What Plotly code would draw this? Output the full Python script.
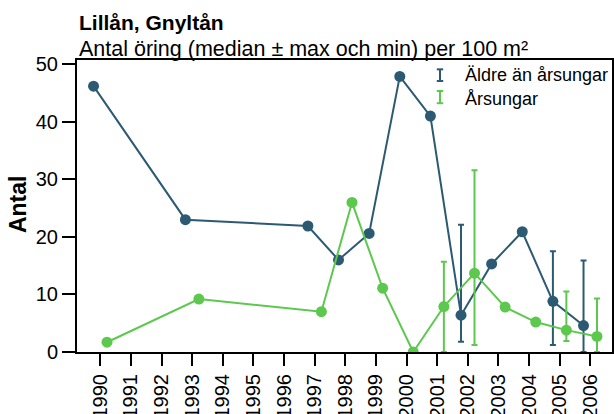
import plotly.graph_objects as go

years_old = [1990, 1993, 1997, 1998, 1999, 2000, 2001, 2002, 2003, 2004, 2005, 2006]
median_old = [46.2, 23.0, 21.9, 16.0, 20.6, 47.9, 41.0, 6.4, 15.3, 20.9, 8.8, 4.6]
max_old = [None, None, None, None, None, None, None, 22.1, None, None, 17.5, 15.9]
min_old = [None, None, None, None, None, None, None, 1.8, None, None, 1.2, 0.0]

years_young = [1990, 1993, 1997, 1998, 1999, 2000, 2001, 2002, 2003, 2004, 2005, 2006]
median_young = [1.7, 9.2, 7.0, 26.0, 11.1, 0.0, 7.9, 13.7, 7.8, 5.2, 3.8, 2.7]
max_young = [None, None, None, None, None, None, 15.7, 31.6, None, None, 10.5, 9.3]
min_young = [None, None, None, None, None, None, 0.0, 1.2, None, None, 1.9, 0.0]

tick_years = list(range(1990, 2007))
y_ticks = [0, 10, 20, 30, 40, 50]

BLUE = "#2c5a72"
GREEN = "#5cc84e"
DODGE = 0.22


def err(med, mx, mn):
    plus = [(a - m) if a is not None else 0 for m, a in zip(med, mx)]
    minus = [(m - b) if b is not None else 0 for m, b in zip(med, mn)]
    return plus, minus


fig = go.Figure()
for yrs, med, mx, mn, col, off, name in [
    (years_old, median_old, max_old, min_old, BLUE, -DODGE, "Äldre än årsungar"),
    (years_young, median_young, max_young, min_young, GREEN, DODGE, "Årsungar"),
]:
    p, m = err(med, mx, mn)
    fig.add_trace(go.Scatter(
        x=[y + off for y in yrs], y=med, name=name, mode="lines+markers",
        line=dict(color=col, width=2),
        marker=dict(color=col, size=11),
        error_y=dict(type="data", symmetric=False, array=p, arrayminus=m,
                     color=col, thickness=2, width=3),
        showlegend=False,
    ))

fig.update_layout(
    width=614, height=414,
    margin=dict(l=77, r=2, t=60, b=62, autoexpand=False),
    paper_bgcolor="white", plot_bgcolor="white",
    font=dict(family="Liberation Sans, Arial, sans-serif", color="black"),
    xaxis=dict(range=[1989.24, 2006.71], tickvals=tick_years,
               ticktext=[str(y) for y in tick_years], tickangle=-90,
               ticks="outside", ticklen=12, tickwidth=2, tickcolor="black",
               showline=True, linecolor="black", linewidth=2, mirror=True,
               showgrid=False, zeroline=False, tickfont=dict(size=20),
               automargin=False),
    yaxis=dict(range=[0, 50.75], tickvals=y_ticks,
               ticks="outside", ticklen=13, tickwidth=2, tickcolor="black",
               showline=True, linecolor="black", linewidth=2, mirror=True,
               showgrid=False, zeroline=False, tickfont=dict(size=20),
               automargin=False),
)

ann = [
    dict(text="<b>Lillån, Gnyltån</b>", x=0, y=1.130, font=dict(size=21)),
    dict(text="Antal öring (median ± max och min) per 100 m²", x=0, y=1.036, font=dict(size=21.5)),
    dict(text="Äldre än årsungar", x=0.722, y=0.949, font=dict(size=18)),
    dict(text="Årsungar", x=0.722, y=0.866, font=dict(size=18)),
]
for a in ann:
    fig.add_annotation(xref="paper", yref="paper", xanchor="left", yanchor="middle",
                       showarrow=False, **a)
fig.add_annotation(text="<b>Antal</b>", xref="paper", yref="paper", x=-0.110, y=0.507,
                   textangle=-90, showarrow=False, font=dict(size=23),
                   xanchor="center", yanchor="middle")

# legend glyphs (error-bar style)
for col, y0, y1 in [(BLUE, 0.928, 0.968), (GREEN, 0.852, 0.894)]:
    xc = 0.6785
    fig.add_shape(type="line", xref="paper", yref="paper", x0=xc, x1=xc, y0=y0, y1=y1,
                  line=dict(color=col, width=2))
    for yy in (y0, y1):
        fig.add_shape(type="line", xref="paper", yref="paper", x0=xc - 0.006, x1=xc + 0.006,
                      y0=yy, y1=yy, line=dict(color=col, width=2))

fig.write_html("out.html", config={"displayModeBar": False},
               post_script="document.body.style.margin='0';")
